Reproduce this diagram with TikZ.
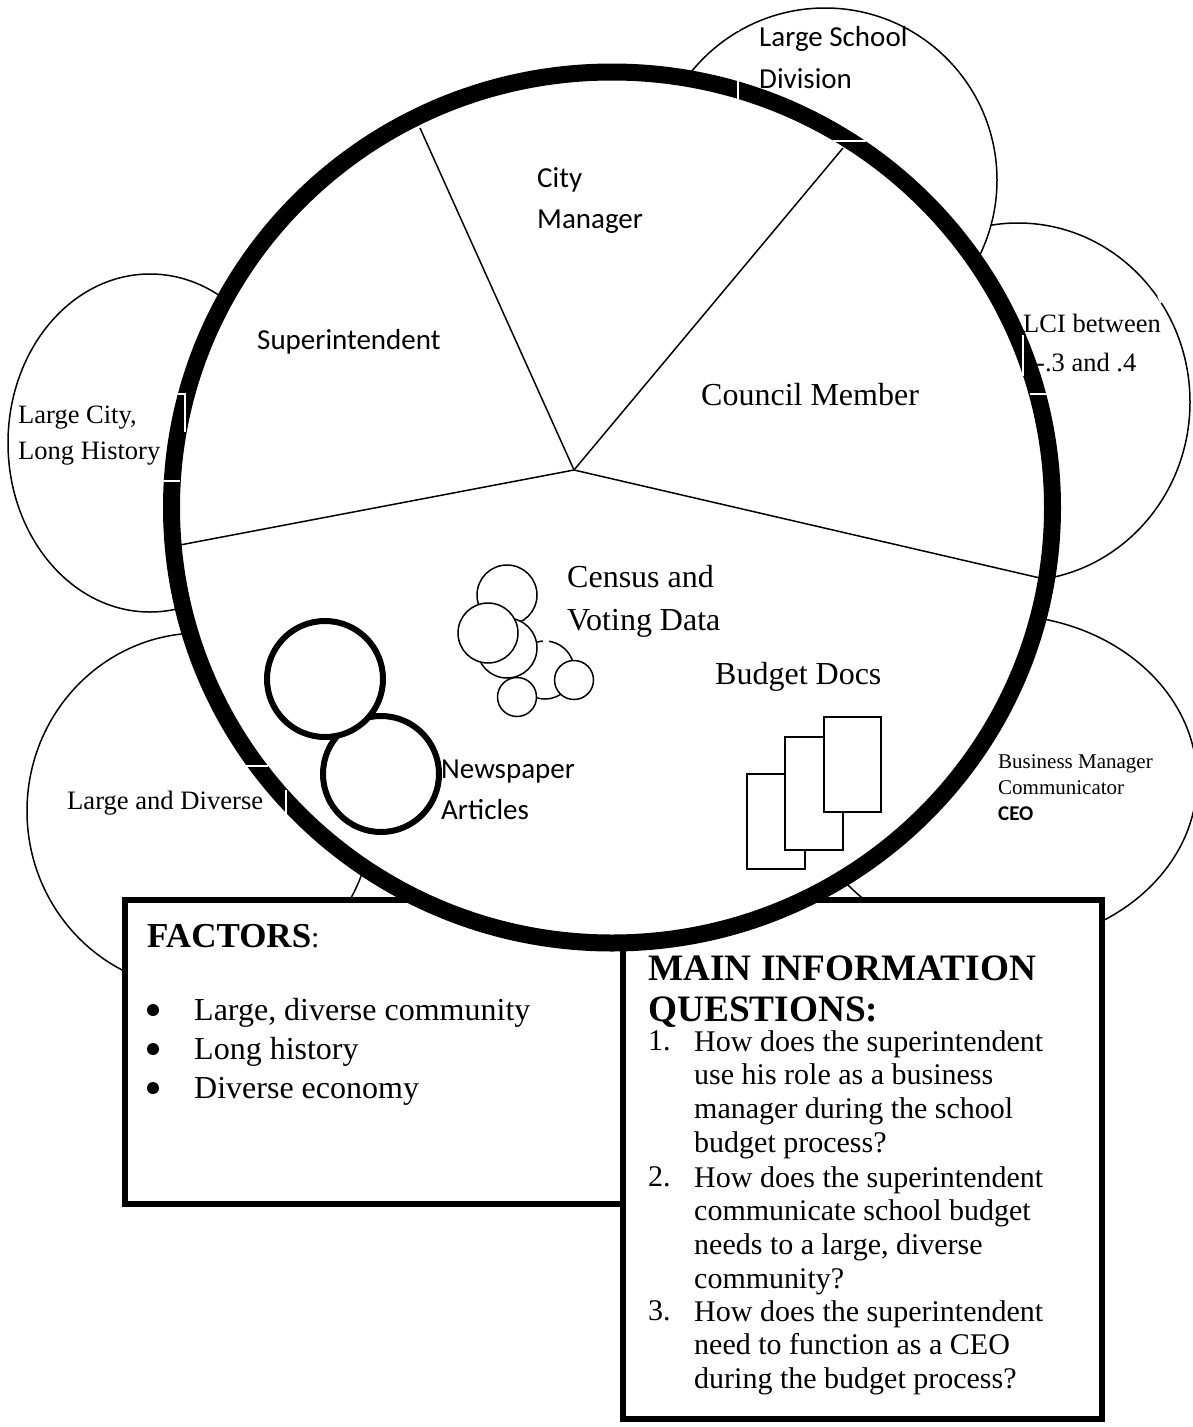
\documentclass[tikz,border=0pt]{standalone}
\usepackage{fontspec}
\setmainfont{Liberation Serif}
\newfontfamily\calibrifont{Carlito}
\tikzset{
  bubble/.style={draw, line width=1.5pt, fill=white},
  factorbox/.style={draw, line width=6pt, fill=white},
  tinycircle/.style={draw, line width=1.5pt, fill=white},
  newscircle/.style={draw, line width=6pt, fill=white},
  docsheet/.style={draw, line width=2pt, fill=white},
  spoke/.style={draw, line width=1.5pt},
  gapline/.style={draw=white, line width=1.5pt},
  listbullet/.style={circle, fill=black, minimum size=12pt, inner sep=0pt},
  serifl/.style={anchor=base west, inner sep=0pt, font=\fontsize{#1}{#1}\selectfont},
  calibril/.style={anchor=base west, inner sep=0pt, font=\calibrifont\fontsize{#1}{#1}\selectfont},
  questiontext/.style={anchor=north west, inner sep=0pt, align=left, font=\fontsize{30}{33.8}\selectfont}
}
\begin{document}
\begin{tikzpicture}[x=1pt, y=-1pt]
\useasboundingbox (0,0) rectangle (1192,1427);

% Outer bubbles
\path[bubble] (1018,402) ellipse [x radius=172, y radius=179];
\path[bubble] (825,180) ellipse [x radius=172, y radius=172];
\path[bubble] (150,443) ellipse [x radius=142, y radius=169];
\path[bubble] (200,811) ellipse [x radius=173, y radius=178];
\path[bubble] (1000,780) ellipse [x radius=197, y radius=165];

% Text boxes behind the ring
\path[factorbox] (125,900) rectangle (660,1204);
\path[factorbox] (623,900) rectangle (1102,1419);

% Main ring
\path[draw, line width=17pt, fill=white] (612,507.5) ellipse [x radius=440.5, y radius=435.5];

% Spokes
\coordinate (hub) at (574,470);
\coordinate (manager) at (420,128);
\coordinate (member) at (843,148);
\coordinate (docs) at (1040,578);
\coordinate (super) at (180,545);
\path[spoke] (hub) -- (manager);
\path[spoke] (hub) -- (member);
\path[spoke] (hub) -- (docs);
\path[spoke] (hub) -- (super);

% Census and voting data
\node[tinycircle, circle, minimum size=60pt, inner sep=0pt] (census1) at (507,595) {};
\node[tinycircle, circle, minimum size=58pt, inner sep=0pt] (census2) at (545,670) {};
\node[tinycircle, circle, minimum size=60pt, inner sep=0pt] (census3) at (507,648) {};
\node[tinycircle, circle, minimum size=60pt, inner sep=0pt] (census4) at (488,633) {};
\node[tinycircle, circle, minimum size=39pt, inner sep=0pt] (census5) at (574,680) {};
\node[tinycircle, circle, minimum size=39pt, inner sep=0pt] (census6) at (517,697) {};

% Newspaper articles
\node[newscircle, circle, minimum size=116pt, inner sep=0pt] (news2) at (381,774) {};
\node[newscircle, circle, minimum size=116pt, inner sep=0pt] (news1) at (325,679) {};

% Budget docs
\path[docsheet] (747,774) rectangle (805,869);
\path[docsheet] (785,737) rectangle (843,850);
\path[docsheet] (824,717) rectangle (881,812);

% White marks over the lines
\path[gapline] (738,80) -- (738,99);
\path[gapline] (738,24) -- (738,31);
\path[gapline] (960,66) -- (963,72);
\path[gapline] (833,141) -- (866,141);
\path[gapline] (1023,335) -- (1023,376);
\path[gapline] (1030,394) -- (1050,394);
\path[gapline] (1158,296) -- (1161,303);
\path[gapline] (178,394) -- (185,394) -- (185,432);
\path[gapline] (163,481) -- (180,481);
\path[gapline] (245,766) -- (268,766);
\path[gapline] (286,790) -- (286,816);
\path[gapline] (506,306) -- (509,318);
\path[gapline] (543,641) -- (549,641);

% Labels in the ring
\node[calibril=29] (superlabel) at (257,349) {Superintendent};
\node[calibril=29] (citylabel) at (537,187) {City};
\node[calibril=29] (citylabel2) at (537,228) {Manager};
\node[serifl=32] (councillabel) at (701,405) {Council Member};
\node[serifl=32] (censuslabel) at (567,587) {Census and};
\node[serifl=32] (censuslabel2) at (567,630) {Voting Data};
\node[serifl=32] (budgetlabel) at (715,684) {Budget Docs};
\node[calibril=29] (newslabel) at (441,778) {Newspaper};
\node[calibril=29] (newslabel2) at (441,819) {Articles};

% Labels in the bubbles
\node[calibril=29] (schoollabel) at (759,46) {Large School};
\node[calibril=29] (schoollabel2) at (759,88) {Division};
\node[serifl=26.5] (lcilabel) at (1023,332) {LCI between};
\node[serifl=26.5] (lcilabel2) at (1036,371) {-.3 and .4};
\node[serifl=26.5] (citylong) at (18,423) {Large City,};
\node[serifl=26.5] (citylong2) at (18,459) {Long History};
\node[serifl=26.6] (largelabel) at (67,809) {Large and Diverse};
\node[serifl=21] (rolelabel) at (998,768) {Business Manager};
\node[serifl=21] (rolelabel2) at (998,794) {Communicator};
\node[calibril=21] (rolelabel3) at (998,820) {\bfseries CEO};

% Factors
\node[serifl=35] (factorhead) at (147,947) {\textbf{FACTORS}\fontsize{30}{30}\selectfont:};
\node[listbullet] (bullet1) at (153,1010) {};
\node[listbullet] (bullet2) at (153,1049) {};
\node[listbullet] (bullet3) at (153,1088) {};
\node[serifl=32] (factor1) at (194,1020) {Large, diverse community};
\node[serifl=32] (factor2) at (194,1059) {Long history};
\node[serifl=32] (factor3) at (194,1098) {Diverse economy};

% Main information questions
\node[serifl=37.3] (questionhead) at (648,980) {\textbf{MAIN INFORMATION}};
\node[serifl=37.3] (questionhead2) at (648,1021) {\textbf{QUESTIONS:}};
\node[serifl=30] (num1) at (648,1050) {1.};
\node[serifl=30] (num2) at (648,1186) {2.};
\node[serifl=30] (num3) at (648,1320) {3.};
\node[questiontext] (question1) at (694,1030) {How does the superintendent\\use his role as a business\\manager during the school\\budget process?};
\node[questiontext] (question2) at (694,1166) {How does the superintendent\\communicate school budget\\needs to a large, diverse\\community?};
\node[questiontext] (question3) at (694,1300) {How does the superintendent\\need to function as a CEO\\during the budget process?};
\end{tikzpicture}
\end{document}
